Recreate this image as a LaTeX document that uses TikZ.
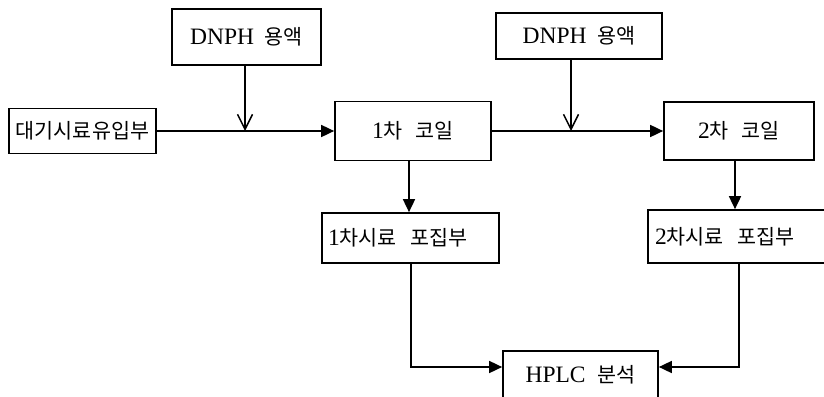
\documentclass[tikz,border=0pt]{standalone}
\usepackage{fontspec}
\setmainfont{Liberation Serif}
\newfontfamily\kr[Scale=0.88]{Noto Sans CJK KR}
\usetikzlibrary{arrows.meta}
\newcommand\K[1]{{\kr #1}}
\tikzset{
 box/.style={draw, line width=1.7pt, inner sep=0pt, font=\fontsize{23.5}{27}\selectfont},
 flow/.style={line width=1.7pt, -{Triangle[length=13pt,width=12pt]}},
 feed/.style={line width=1.7pt, -{Straight Barb[length=15pt,width=15pt,line width=1.5pt]}},
}
\begin{document}
\begin{tikzpicture}[x=1pt,y=-1pt]
\useasboundingbox (0,0) rectangle (824,396);
\clip (0,0) rectangle (824,396);
\node[box, minimum width=149pt, minimum height=56pt] (dnph1) at (246.5,37) {DNPH\hspace{0.45em}\K{용액}};
\node[box, minimum width=147pt, minimum height=45pt] (inlet) at (82.5,131) {\K{대기시료유입부}};
\node[box, minimum width=156pt, minimum height=59pt] (coil1) at (413,131) {1\K{차}\hspace{0.55em}\K{코일}};
\node[box, minimum width=166pt, minimum height=46pt] (dnph2) at (579,36) {DNPH\hspace{0.45em}\K{용액}};
\node[box, minimum width=150pt, minimum height=58pt] (coil2) at (739,131) {2\K{차}\hspace{0.55em}\K{코일}};
\node[box, text width=165pt, inner xsep=6pt, align=left, minimum height=50pt] (samp1) at (410.5,238) {1\K{차시료}\hspace{0.6em}\K{포집부}};
\node[box, text width=174pt, inner xsep=7pt, align=left, minimum height=53pt] (samp2) at (742,236.5) {2\K{차시료}\hspace{0.6em}\K{포집부}};
\node[box, minimum width=155pt, minimum height=48pt] (hplc) at (580.5,375) {HPLC\hspace{0.5em}\K{분석}};
\coordinate (j1) at (245,131);
\coordinate (j2) at (571,131);
\coordinate (c1) at (409,0);
\coordinate (c2) at (735,0);
\coordinate (d1) at (411,0);
\coordinate (d2) at (739,0);
\coordinate (h) at (0,367);
\draw[flow] (inlet.east) -- (coil1.west);
\draw[flow] (coil1.east) -- (coil2.west);
\draw[feed] (dnph1.south -| j1) -- (j1);
\draw[feed] (dnph2.south -| j2) -- (j2);
\draw[flow] (coil1.south -| c1) -- (samp1.north -| c1);
\draw[flow] (coil2.south -| c2) -- (samp2.north -| c2);
\draw[flow] (samp1.south -| d1) |- (hplc.west |- h);
\draw[flow] (samp2.south -| d2) |- (hplc.east |- h);
\end{tikzpicture}
\end{document}
